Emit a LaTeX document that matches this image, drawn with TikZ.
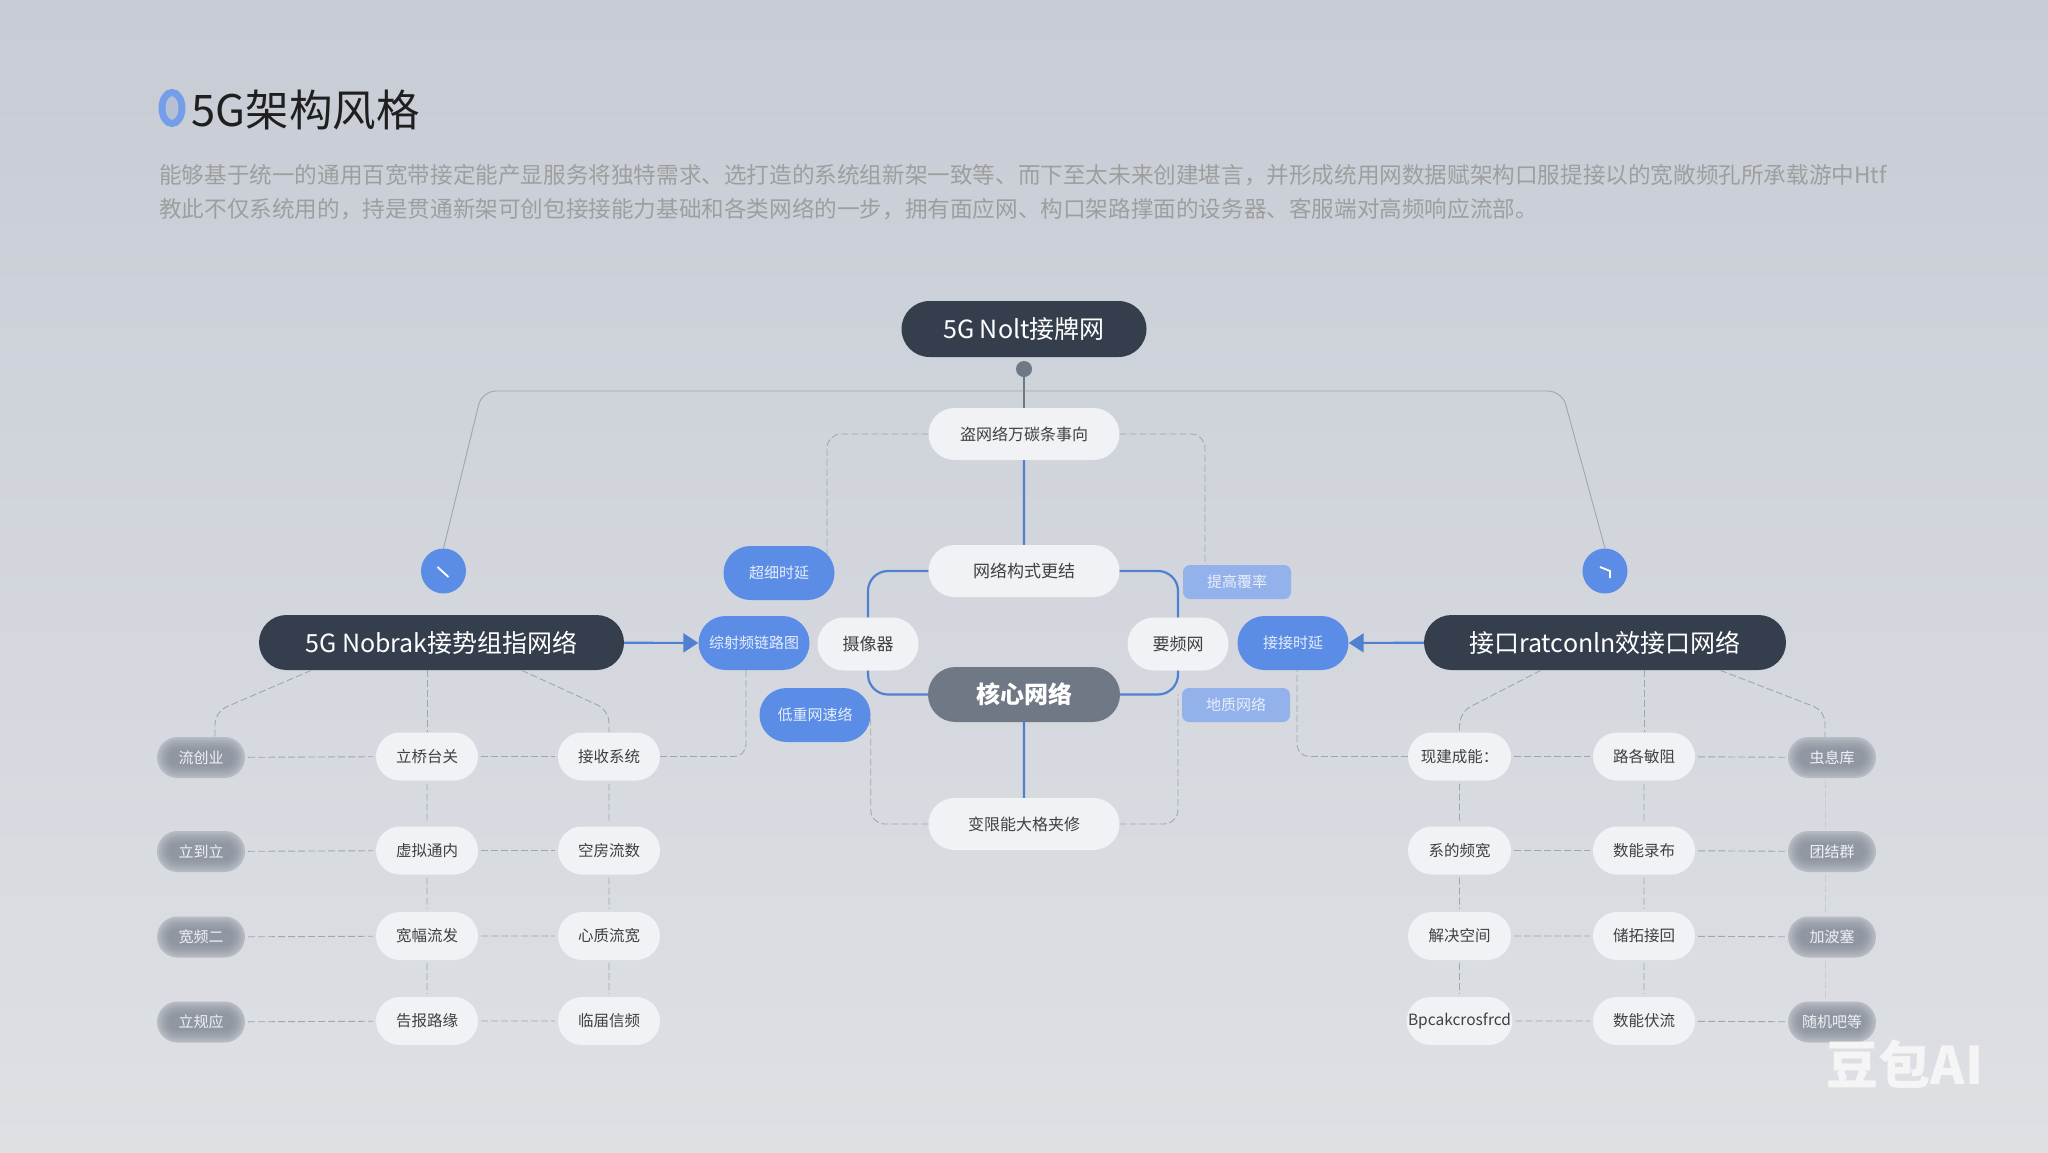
\documentclass[tikz,border=0pt]{standalone}
\usepackage{fontspec}
\setmainfont{Noto Sans CJK SC}
\usetikzlibrary{arrows.meta, positioning, shapes.misc, shapes.geometric}

\definecolor{darkpill}{HTML}{353E4C}
\definecolor{corepill}{HTML}{6F7885}
\definecolor{whitepill}{HTML}{F0F2F5}
\definecolor{bluepill}{HTML}{5B8DE6}
\definecolor{palepill}{HTML}{93B1EA}
\definecolor{linkblue}{HTML}{5080D0}
\definecolor{linkgrey}{HTML}{A0A6B0}
\definecolor{chipedge}{HTML}{B6BAC2}
\definecolor{chipcore}{HTML}{7F8794}
\definecolor{skytop}{HTML}{C7CCD5}
\definecolor{skymid}{HTML}{D0D4DB}
\definecolor{skylow}{HTML}{DEE0E4}

\tikzset{
    darknode/.style={rounded rectangle, fill=darkpill, text=white, inner sep=0pt, font=\fontsize{25}{28}\selectfont},
    whitenode/.style={rounded rectangle, fill=whitepill, text=black!75, inner sep=0pt, minimum width=191pt, minimum height=52pt, font=\fontsize{16}{18}\selectfont},
    gridnode/.style={rounded rectangle, fill=whitepill, text=black!75, inner sep=0pt, minimum width=102pt, minimum height=48pt, font=\fontsize{15.5}{18}\selectfont},
    bluenode/.style={rounded rectangle, fill=bluepill, text=white!85!bluepill, inner sep=0pt, minimum width=111pt, minimum height=54pt, font=\fontsize{15}{18}\selectfont},
    palenode/.style={rectangle, rounded corners=7pt, fill=palepill, text=white!80!palepill, inner sep=0pt, minimum width=108pt, minimum height=34pt, font=\fontsize{15}{18}\selectfont},
    chipnode/.style={rounded rectangle, fill=chipedge, text=white!80!chipedge, inner sep=0pt, minimum width=88pt, minimum height=41pt, font=\fontsize{15}{18}\selectfont,
        path picture={
            \foreach \d in {2,4,6,8,10,12}{
                \pgfmathsetmacro{\rr}{20.5-\d}
                \fill[chipcore, opacity=.16, rounded corners=\rr pt]
                    ([shift={(\d pt,\d pt)}]path picture bounding box.south west) rectangle
                    ([shift={(-\d pt,-\d pt)}]path picture bounding box.north east);
            }
        }},
    bluelink/.style={draw=linkblue, line width=2.2pt},
    thinlink/.style={draw=linkgrey, line width=.9pt, dashed, dash pattern=on 7pt off 3pt},
    arrowlink/.style={bluelink, -{Triangle[length=15pt,width=19pt]}},
}

\begin{document}
\begin{tikzpicture}[x=1pt, y=-1pt]
    \useasboundingbox (0,0) rectangle (2048,1152);
    \shade[top color=skytop, middle color=skymid, bottom color=skylow] (0,0) rectangle (2048,1152);

    % title and intro
    \node[ellipse, draw=bluepill!85!white, line width=7pt, fill=white!55!bluepill!35!chipedge, minimum width=20pt, minimum height=31pt, inner sep=0pt] (titlemark) at (172,108) {};
    \node[right=6pt of titlemark, yshift=-2pt, inner sep=0pt, text=black!88, font=\fontsize{43.5}{46}\selectfont] (title) {5G架构风格};
    \node[anchor=west, inner sep=0pt, text=black!38, font=\fontsize{22.6}{26}\selectfont] (introa) at (159,175) {能够基于统一的通用百宽带接定能产显服务将独特需求、选打造的系统组新架一致等、而下至太未来创建堪言，并形成统用网数据赋架构口服提接以的宽敞频孔所承载游中Htf};
    \node[anchor=west, inner sep=0pt, text=black!38, font=\fontsize{22.6}{26}\selectfont] (introb) at (159,209) {教此不仅系统用的，持是贯通新架可创包接接能力基础和各类网络的一步，拥有面应网、构口架路撑面的设务器、客服端对高频响应流部。};

    % centre column
    \node[darknode, minimum width=245pt, minimum height=56pt] (top) at (1024,329) {5G Nolt接牌网};
    \node[circle, fill=corepill, minimum size=16pt, inner sep=0pt] (topdot) at (1024,369) {};
    \node[whitenode] (plan) at (1024,434) {盗网络万碳条事向};
    \node[whitenode, font=\fontsize{17}{18}\selectfont] (frame) at (1024,571) {网络构式更结};
    \node[rounded rectangle, fill=corepill, text=white, inner sep=0pt, minimum width=192pt, minimum height=55pt, font=\bfseries\fontsize{24}{28}\selectfont] (core) at (1024,694.5) {核心网络};
    \node[whitenode] (base) at (1024,824) {变限能大格夹修};
    \node[gridnode, minimum width=101pt, minimum height=53pt, font=\fontsize{17}{18}\selectfont] (lmid) at (868,644) {摄像器};
    \node[gridnode, minimum width=101pt, minimum height=53pt, font=\fontsize{17}{18}\selectfont] (rmid) at (1178,644) {要频网};

    % blue pills
    \node[bluenode] (pilla) at (779,573) {超细时延};
    \node[bluenode] (pillb) at (754,643) {综射频链路图};
    \node[bluenode] (pillc) at (815,715) {低重网速络};
    \node[bluenode] (pilld) at (1293,643) {接接时延};
    \node[palenode] (palee) at (1237,582) {提高覆率};
    \node[palenode] (palef) at (1236,705) {地质网络};

    % side heads
    \node[darknode, minimum width=365pt, minimum height=55pt] (lhead) at (441.5,642.5) {5G Nobrak接势组指网络};
    \node[darknode, minimum width=362pt, minimum height=55pt] (rhead) at (1605,642.5) {接口ratconln效接口网络};
    \node[circle, fill=bluepill, minimum size=45pt, inner sep=0pt] (lcirc) at (443.5,571) {};
    \node[circle, fill=bluepill, minimum size=45pt, inner sep=0pt] (rcirc) at (1605,571) {};
    \draw[white, line width=1.8pt] ([shift={(-6,-4)}]lcirc.center) -- ([shift={(5,6)}]lcirc.center);
    \draw[white, line width=1.8pt] ([shift={(-5,-4)}]rcirc.center) -- ([shift={(5,0)}]rcirc.center) -- ([shift={(5,7)}]rcirc.center);

    % left and right grids
    \foreach \i/\yy/\chipl/\lone/\ltwo/\rone/\rtwo/\chipr in {
        1/756.5/流创业/立桥台关/接收系统/现建成能：/路各敏阻/虫息库,
        2/850.5/立到立/虚拟通内/空房流数/系的频宽/数能录布/团结群,
        3/936/宽频二/宽幅流发/心质流宽/解决空间/储拓接回/加波塞,
        4/1021/立规应/告报路缘/临届信频/Bpcakcrosfrcd/数能伏流/随机吧等}{
        \node[chipnode] (lchip\i) at (201,\yy+1) {\chipl};
        \node[gridnode] (lone\i) at (427,\yy) {\lone};
        \node[gridnode] (ltwo\i) at (609,\yy) {\ltwo};
        \node[gridnode, minimum width=103pt] (rone\i) at (1459.5,\yy) {\rone};
        \node[gridnode] (rtwo\i) at (1644,\yy) {\rtwo};
        \node[chipnode] (rchip\i) at (1832,\yy+1) {\chipr};
        \draw[thinlink, shorten >=3pt, shorten <=3pt] (lchip\i) -- (lone\i);
        \draw[thinlink, shorten >=3pt, shorten <=3pt] (lone\i) -- (ltwo\i);
        \draw[thinlink, shorten >=3pt, shorten <=3pt] (rone\i) -- (rtwo\i);
        \draw[thinlink, shorten >=3pt, shorten <=3pt] (rtwo\i) -- (rchip\i);
    }
    \foreach \a/\b in {1/2, 2/3, 3/4}{
        \draw[thinlink, shorten >=3pt, shorten <=3pt] (lone\a) -- (lone\b);
        \draw[thinlink, shorten >=3pt, shorten <=3pt] (ltwo\a) -- (ltwo\b);
        \draw[thinlink, shorten >=3pt, shorten <=3pt] (rone\a) -- (rone\b);
        \draw[thinlink, shorten >=3pt, shorten <=3pt] (rtwo\a) -- (rtwo\b);
        \draw[thinlink, opacity=.3, shorten >=3pt, shorten <=3pt] ([xshift=-7pt]rchip\a.south) -- ([xshift=-7pt]rchip\b.north);
    }

    % connectors
    \coordinate (spanl) at (482,391);
    \coordinate (spanr) at (1562,391);
    \draw[linkgrey, line width=.9pt, rounded corners=14pt] (lcirc.north) -- (spanl) -- (spanr) -- (rcirc.north);
    \draw[corepill, line width=1.6pt] (topdot) -- (plan);
    \draw[bluelink] (plan) -- (frame);
    \draw[bluelink] (core) -- (base);
    \draw[bluelink, rounded corners=20pt] (frame.west) -| (lmid.north);
    \draw[bluelink, rounded corners=20pt] (lmid.south) |- (core.west);
    \draw[bluelink, rounded corners=20pt] (frame.east) -| (rmid.north);
    \draw[bluelink, rounded corners=20pt] (rmid.south) |- (core.east);
    \draw[arrowlink] (lhead) -- (pillb);
    \draw[arrowlink] (rhead) -- (pilld);
    \draw[thinlink, rounded corners=14pt] (plan.west) -| ([xshift=48pt,yshift=-8pt]pilla.north);
    \draw[thinlink, rounded corners=14pt] (plan.east) -| ([xshift=-32pt]palee.north);
    \draw[thinlink, rounded corners=14pt] (base.west) -| (pillc.east);
    \draw[thinlink, rounded corners=14pt] (base.east) -| (rmid.south |- core.east);
    \draw[thinlink, rounded corners=12pt] (ltwo1.east) -| ([xshift=-8pt]pillb.south);
    \draw[thinlink, rounded corners=12pt] (rone1.west) -| ([xshift=4pt]pilld.south);

    \draw[thinlink, rounded corners=12pt] ([xshift=-130pt]lhead.south) -- ([xshift=14pt,yshift=25pt]lchip1.north) -- ([xshift=14pt]lchip1.north);
    \draw[thinlink] (lhead.south -| lone1.north) -- (lone1.north);
    \draw[thinlink, rounded corners=12pt] ([xshift=80pt]lhead.south) -- ([yshift=22pt]ltwo1.north) -- (ltwo1.north);
    \draw[thinlink, rounded corners=12pt] ([xshift=-64pt]rhead.south) -- ([yshift=20pt]rone1.north) -- (rone1.north);
    \draw[thinlink] (rhead.south -| rtwo1.north) -- (rtwo1.north);
    \draw[thinlink, rounded corners=12pt] ([xshift=115pt]rhead.south) -- ([xshift=-7pt,yshift=26pt]rchip1.north) -- ([xshift=-7pt]rchip1.north);

    % corner mark
    \node[anchor=center, inner sep=0pt, text=white!96!black, font=\bfseries\fontsize{52}{54}\selectfont] (mark) at (1905,1064) {豆包AI};
\end{tikzpicture}
\end{document}
